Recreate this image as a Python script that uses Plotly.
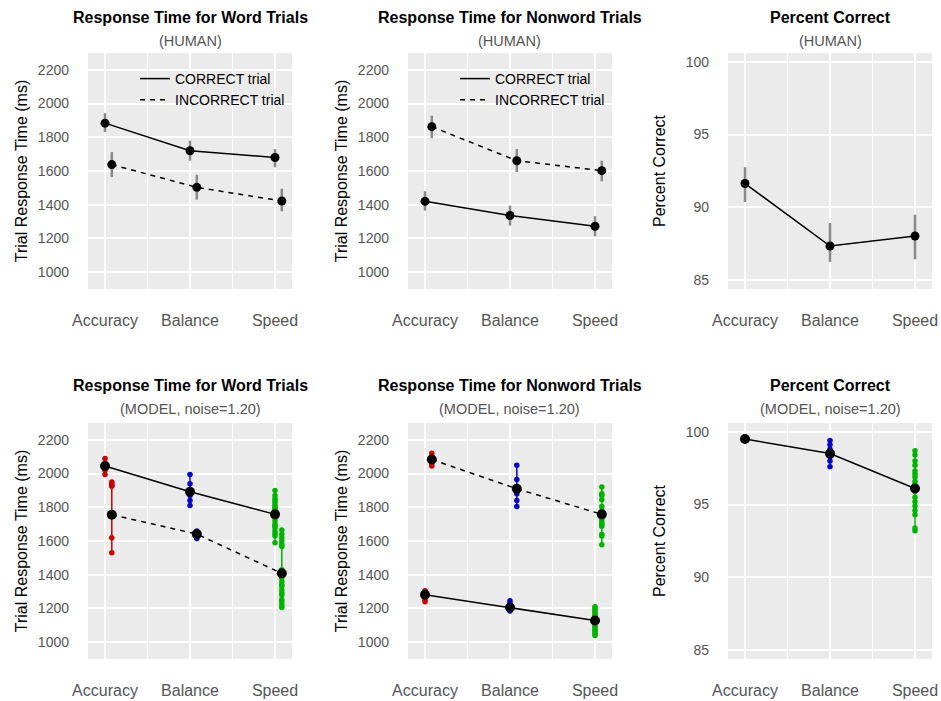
import plotly.graph_objects as go

# ---------------- data ----------------
conditions = ["Accuracy", "Balance", "Speed"]
x_pos = [0, 1, 2]
offset = 0.08  # dodge for INCORRECT series

# HUMAN, word trials
hw_correct = [1884, 1720, 1680]
hw_correct_lo = [1831, 1661, 1622]
hw_correct_hi = [1943, 1780, 1730]
hw_incorrect = [1638, 1503, 1422]
hw_incorrect_lo = [1564, 1430, 1361]
hw_incorrect_hi = [1712, 1578, 1495]

# HUMAN, nonword trials
hn_correct = [1420, 1336, 1272]
hn_correct_lo = [1365, 1276, 1213]
hn_correct_hi = [1480, 1395, 1332]
hn_incorrect = [1863, 1661, 1602]
hn_incorrect_lo = [1795, 1594, 1539]
hn_incorrect_hi = [1928, 1730, 1661]

# HUMAN, percent correct
h_pc = [91.64, 87.35, 88.04]
h_pc_lo = [90.37, 86.26, 86.44]
h_pc_hi = [92.76, 88.93, 89.50]

# MODEL means
mw_correct = [2045, 1892, 1758]
mw_incorrect = [1756, 1641, 1408]
mn_correct = [1281, 1206, 1128]
mn_incorrect = [2083, 1910, 1758]
m_pc = [99.5, 98.5, 96.1]

# MODEL individual runs (word)
mw_correct_acc = [2090, 2060, 2040, 2020, 1995]
mw_correct_bal = [1995, 1940, 1900, 1870, 1840, 1810]
mw_correct_spd = [1900, 1870, 1850, 1840, 1825, 1810, 1800, 1790, 1780, 1770,
                  1750, 1740, 1720, 1700, 1690, 1680, 1660, 1645, 1630, 1590]
mw_incorrect_acc = [1950, 1940, 1930, 1925, 1620, 1530]
mw_incorrect_bal = [1660, 1650, 1630, 1615]
mw_incorrect_spd = [1665, 1640, 1620, 1600, 1580, 1568, 1430, 1400, 1380, 1360,
                    1340, 1332, 1310, 1292, 1280, 1253, 1240, 1220, 1205]

# MODEL individual runs (nonword)
mn_correct_acc = [1305, 1290, 1270, 1250, 1240]
mn_correct_bal = [1245, 1230, 1200, 1185]
mn_correct_spd = [1210, 1200, 1190, 1180, 1170, 1160, 1150, 1140, 1120, 1100,
                  1090, 1080, 1070, 1060, 1050, 1040]
mn_incorrect_acc = [2120, 2100, 2080, 2060, 2045]
mn_incorrect_bal = [2050, 1965, 1920, 1900, 1880, 1840, 1805]
mn_incorrect_spd = [1920, 1880, 1870, 1845, 1805, 1780, 1766, 1750, 1740, 1726,
                    1710, 1700, 1687, 1640, 1630, 1578]

# MODEL individual runs (percent correct)
m_pc_acc = [99.6, 99.5, 99.4]
m_pc_bal = [99.4, 99.1, 98.8, 98.5, 98.3, 98.0, 97.6]
m_pc_spd = [98.7, 98.4, 98.0, 97.7, 97.3, 97.1, 96.9, 96.6, 96.4, 95.9,
            95.5, 95.2, 94.9, 94.6, 94.3, 93.4, 93.2]

cond_colors = ["#CC0000", "#0000CC", "#00B300"]

rt_ticks = [1000, 1200, 1400, 1600, 1800, 2000, 2200]
pc_ticks = [85, 90, 95, 100]

# ---------------- layout geometry ----------------
W, H = 941, 701
col_px = [(88, 292), (408, 612), (728, 932)]
row_px = [(53, 289), (423, 659)]

FONT = "Liberation Sans, Arial, sans-serif"
GRAY_TXT = "#555555"
ERR_GRAY = "#8A8A8A"

fig = go.Figure()

def axname(i):
    return "" if i == 1 else str(i)

def dodge(xs, d):
    return [x + d for x in xs]

panel = 0
layout_axes = {}
for r, (y0, y1) in enumerate(row_px):
    for c, (x0, x1) in enumerate(col_px):
        panel += 1
        is_pc = (c == 2)
        layout_axes["xaxis" + axname(panel)] = dict(
            domain=[x0 / W, x1 / W], anchor="y" + axname(panel),
            range=[-0.2, 2.2], tickvals=x_pos, ticktext=conditions,
            showgrid=True, gridcolor="white", gridwidth=1.8, zeroline=False,
            ticks="", ticklabelstandoff=20, showline=False, automargin=False,
            tickfont=dict(size=16, color=GRAY_TXT, family=FONT),
            minor=dict(tickvals=[0.5, 1.5], showgrid=True, gridcolor="white",
                       gridwidth=0.9),
            fixedrange=True,
        )
        ydict = dict(
            domain=[1 - y1 / H, 1 - y0 / H], anchor="x" + axname(panel),
            showgrid=True, gridcolor="white", gridwidth=1.8, zeroline=False,
            ticks="", ticklabelstandoff=18, showline=False, automargin=False,
            tickfont=dict(size=14, color=GRAY_TXT, family=FONT),
            title=dict(text="Percent Correct" if is_pc else "Trial Response Time (ms)",
                       font=dict(size=16, color="black", family=FONT),
                       standoff=16 if is_pc else 6),
            fixedrange=True,
        )
        if is_pc:
            ydict.update(range=[84.4, 100.6], tickvals=pc_ticks)
        else:
            ydict.update(range=[900, 2300], tickvals=rt_ticks)
        layout_axes["yaxis" + axname(panel)] = ydict

# ---------------- HUMAN panels ----------------
def human_rt(panel, correct, c_lo, c_hi, incorrect, i_lo, i_hi, legend):
    xa, ya = "x" + axname(panel), "y" + axname(panel)
    fig.add_trace(go.Scatter(x=x_pos, y=correct, mode="lines", xaxis=xa, yaxis=ya,
                             line=dict(color="black", width=1.5),
                             name="CORRECT trial", legend=legend, showlegend=True))
    fig.add_trace(go.Scatter(x=dodge(x_pos, offset), y=incorrect, mode="lines",
                             xaxis=xa, yaxis=ya,
                             line=dict(color="black", width=1.5, dash="5px,5px"),
                             name="INCORRECT trial", legend=legend, showlegend=True))
    for xs, ys, lo, hi in [(x_pos, correct, c_lo, c_hi),
                           (dodge(x_pos, offset), incorrect, i_lo, i_hi)]:
        fig.add_trace(go.Scatter(
            x=xs, y=ys, mode="markers", xaxis=xa, yaxis=ya, showlegend=False,
            marker=dict(color="black", size=9),
            error_y=dict(type="data", symmetric=False,
                         array=[h - v for h, v in zip(hi, ys)],
                         arrayminus=[v - l for v, l in zip(ys, lo)],
                         color=ERR_GRAY, thickness=2.5, width=0)))

human_rt(1, hw_correct, hw_correct_lo, hw_correct_hi,
         hw_incorrect, hw_incorrect_lo, hw_incorrect_hi, "legend")
human_rt(2, hn_correct, hn_correct_lo, hn_correct_hi,
         hn_incorrect, hn_incorrect_lo, hn_incorrect_hi, "legend2")

fig.add_trace(go.Scatter(
    x=x_pos, y=h_pc, mode="lines+markers", xaxis="x3", yaxis="y3", showlegend=False,
    line=dict(color="black", width=1.5), marker=dict(color="black", size=9),
    error_y=dict(type="data", symmetric=False,
                 array=[h - v for h, v in zip(h_pc_hi, h_pc)],
                 arrayminus=[v - l for v, l in zip(h_pc, h_pc_lo)],
                 color=ERR_GRAY, thickness=2.5, width=0)))

# ---------------- MODEL panels ----------------
def runs(panel, xc, values, color):
    xa, ya = "x" + axname(panel), "y" + axname(panel)
    ys = sorted(values)
    fig.add_trace(go.Scatter(x=[xc] * len(ys), y=ys, mode="lines+markers",
                             xaxis=xa, yaxis=ya, showlegend=False,
                             line=dict(color=color, width=1.5),
                             marker=dict(color=color, size=5.5)))

def model_rt(panel, correct_runs, incorrect_runs, correct, incorrect):
    xa, ya = "x" + axname(panel), "y" + axname(panel)
    for i in range(3):
        runs(panel, x_pos[i], correct_runs[i], cond_colors[i])
        runs(panel, x_pos[i] + offset, incorrect_runs[i], cond_colors[i])
    fig.add_trace(go.Scatter(x=x_pos, y=correct, mode="lines+markers",
                             xaxis=xa, yaxis=ya, showlegend=False,
                             line=dict(color="black", width=1.5),
                             marker=dict(color="black", size=10)))
    fig.add_trace(go.Scatter(x=dodge(x_pos, offset), y=incorrect, mode="lines+markers",
                             xaxis=xa, yaxis=ya, showlegend=False,
                             line=dict(color="black", width=1.5, dash="5px,5px"),
                             marker=dict(color="black", size=10)))

model_rt(4, [mw_correct_acc, mw_correct_bal, mw_correct_spd],
         [mw_incorrect_acc, mw_incorrect_bal, mw_incorrect_spd],
         mw_correct, mw_incorrect)
model_rt(5, [mn_correct_acc, mn_correct_bal, mn_correct_spd],
         [mn_incorrect_acc, mn_incorrect_bal, mn_incorrect_spd],
         mn_correct, mn_incorrect)

for i, vals in enumerate([m_pc_acc, m_pc_bal, m_pc_spd]):
    runs(6, x_pos[i], vals, cond_colors[i])
fig.add_trace(go.Scatter(x=x_pos, y=m_pc, mode="lines+markers", xaxis="x6", yaxis="y6",
                         showlegend=False, line=dict(color="black", width=1.5),
                         marker=dict(color="black", size=10)))

# ---------------- titles ----------------
titles = ["Response Time for Word Trials", "Response Time for Nonword Trials",
          "Percent Correct"]
subtitles = ["(HUMAN)", "(MODEL, noise=1.20)"]
annotations = []
for r, (ty, sy) in enumerate([(17, 41), (385, 409)]):
    for c, (x0, x1) in enumerate(col_px):
        xc = (x0 + x1) / 2 / W
        annotations.append(dict(text="<b>" + titles[c] + "</b>", x=xc, y=1 - ty / H,
                                xref="paper", yref="paper", showarrow=False,
                                xanchor="center", yanchor="middle",
                                font=dict(size=16, color="black", family=FONT)))
        annotations.append(dict(text=subtitles[r], x=xc, y=1 - sy / H,
                                xref="paper", yref="paper", showarrow=False,
                                xanchor="center", yanchor="middle",
                                font=dict(size=14.5, color=GRAY_TXT, family=FONT)))

legend_style = dict(bgcolor="rgba(0,0,0,0)", borderwidth=0,
                    font=dict(size=14, color="black", family=FONT),
                    yanchor="top", xanchor="left", tracegroupgap=0)

fig.update_layout(
    width=W, height=H, margin=dict(l=0, r=0, t=0, b=0),
    paper_bgcolor="white", plot_bgcolor="#EBEBEB",
    font=dict(family=FONT),
    annotations=annotations,
    legend=dict(x=135 / W, y=1 - 63 / H, **legend_style),
    legend2=dict(x=455 / W, y=1 - 63 / H, **legend_style),
    **layout_axes,
)

fig.write_html("out.html")
